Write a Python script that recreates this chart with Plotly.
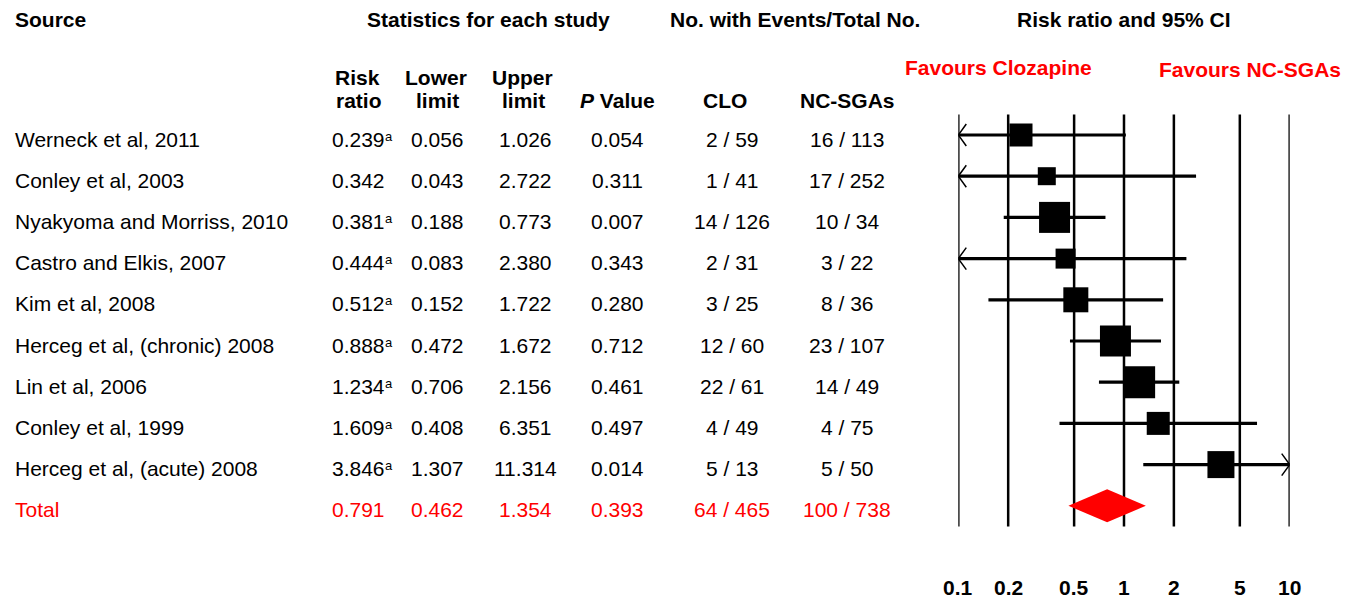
import math
import plotly.graph_objects as go

# ---- data -------------------------------------------------------------
studies = [
    "Werneck et al, 2011",
    "Conley et al, 2003",
    "Nyakyoma and Morriss, 2010",
    "Castro and Elkis, 2007",
    "Kim et al, 2008",
    "Herceg et al, (chronic) 2008",
    "Lin et al, 2006",
    "Conley et al, 1999",
    "Herceg et al, (acute) 2008",
]
risk_ratio = [0.239, 0.342, 0.381, 0.444, 0.512, 0.888, 1.234, 1.609, 3.846]
lower_limit = [0.056, 0.043, 0.188, 0.083, 0.152, 0.472, 0.706, 0.408, 1.307]
upper_limit = [1.026, 2.722, 0.773, 2.380, 1.722, 1.672, 2.156, 6.351, 11.314]
p_value = ["0.054", "0.311", "0.007", "0.343", "0.280", "0.712", "0.461", "0.497", "0.014"]
footnote_a = [True, False, True, True, True, True, True, True, True]
clo_events = ["2 / 59", "1 / 41", "14 / 126", "2 / 31", "3 / 25", "12 / 60", "22 / 61", "4 / 49", "5 / 13"]
ncsga_events = ["16 / 113", "17 / 252", "10 / 34", "3 / 22", "8 / 36", "23 / 107", "14 / 49", "4 / 75", "5 / 50"]

total_label = "Total"
total_rr, total_lo, total_hi = 0.791, 0.462, 1.354
total_p = "0.393"
total_clo = "64 / 465"
total_nc = "100 / 738"

axis_ticks = [0.1, 0.2, 0.5, 1, 2, 5, 10]
axis_ticktext = ["0.1", "0.2", "0.5", "1", "2", "5", "10"]

# box side (px) for each study, proportional to its weight
box_px = [23, 18, 31, 20, 25, 31, 32, 23, 27]

# ---- layout constants -------------------------------------------------
W, H = 1359, 601
ROW0_PX, ROW_PX = 135.0, 41.2          # pixel y of first row, row pitch
X_MIN, X_MAX = 0.1, 10.0
AX_L, AX_R = 958.3, 1289.7             # pixel span of the log axis
DEC_PX = (AX_R - AX_L) / math.log10(X_MAX / X_MIN)

FONT = "Liberation Sans, Arial, sans-serif"
FS = 21
RED = "#FF0000"
BLACK = "#000000"
TXT_DY = 4.0 / ROW_PX                  # text sits slightly below the row line

n = len(studies)
total_row = n

fig = go.Figure()

# vertical reference lines at each tick
for t in axis_ticks:
    fig.add_trace(go.Scatter(
        x=[t, t], y=[-0.5, total_row + 0.5], mode="lines", opacity=1,
        line=dict(color=BLACK, width=2.5), hoverinfo="skip", showlegend=False))

# confidence intervals, clipped to the axis with arrow heads where truncated
arrow_dx = 10 ** (8.0 / DEC_PX)
arrow_dy = 11.0 / ROW_PX
for i in range(n):
    lo = max(lower_limit[i], X_MIN)
    hi = min(upper_limit[i], X_MAX)
    fig.add_trace(go.Scatter(
        x=[lo, hi], y=[i, i], mode="lines", opacity=1,
        line=dict(color=BLACK, width=3.2), hoverinfo="skip", showlegend=False))
    if lower_limit[i] < X_MIN:
        fig.add_trace(go.Scatter(
            x=[X_MIN * arrow_dx, X_MIN, X_MIN * arrow_dx],
            y=[i - arrow_dy, i, i + arrow_dy], mode="lines", opacity=1,
            line=dict(color=BLACK, width=1.5), hoverinfo="skip", showlegend=False))
    if upper_limit[i] > X_MAX:
        fig.add_trace(go.Scatter(
            x=[X_MAX / arrow_dx, X_MAX, X_MAX / arrow_dx],
            y=[i - arrow_dy, i, i + arrow_dy], mode="lines", opacity=1,
            line=dict(color=BLACK, width=1.5), hoverinfo="skip", showlegend=False))

# study point estimates
fig.add_trace(go.Scatter(
    x=risk_ratio, y=list(range(n)), mode="markers", opacity=1,
    marker=dict(symbol="square", size=box_px, color=BLACK, opacity=1,
                line=dict(width=0, color=BLACK)),
    hoverinfo="skip", showlegend=False))

# pooled estimate diamond
dh = 16.5 / ROW_PX
fig.add_trace(go.Scatter(
    x=[total_lo, total_rr, total_hi, total_rr, total_lo],
    y=[total_row, total_row - dh, total_row, total_row + dh, total_row],
    mode="lines", fill="toself", fillcolor=RED, opacity=1,
    line=dict(width=0, color=RED), hoverinfo="skip", showlegend=False))

ann = []


def px_x(px):
    return px / W


def px_y(py):
    return 1 - py / H


def txt(text, x, y, color=BLACK, anchor="center", size=FS, yref="y", bold=False):
    if bold:
        text = "<b>" + text + "</b>"
    ann.append(dict(text=text, x=x, y=y, xref="paper", yref=yref,
                    xanchor=anchor, yanchor="middle", showarrow=False,
                    font=dict(family=FONT, size=size, color=color)))


# column headers
txt("Source", px_x(13), px_y(20), anchor="left", yref="paper", bold=True)
txt("Statistics for each study", px_x(488.5), px_y(20), yref="paper", bold=True)
txt("No. with Events/Total No.", px_x(794.5), px_y(20), yref="paper", bold=True)
ann.append(dict(text="<b>Risk ratio and 95% CI</b>", x=0, y=px_y(20), xref="x", yref="paper",
                xanchor="center", yanchor="middle", showarrow=False,
                font=dict(family=FONT, size=FS, color=BLACK)))

txt("Risk", px_x(357), px_y(77), yref="paper", bold=True)
txt("ratio", px_x(359), px_y(101), yref="paper", bold=True)
txt("Lower", px_x(436), px_y(77), yref="paper", bold=True)
txt("limit", px_x(437), px_y(101), yref="paper", bold=True)
txt("Upper", px_x(522.5), px_y(77), yref="paper", bold=True)
txt("limit", px_x(523.5), px_y(101), yref="paper", bold=True)
txt("<i>P</i> Value", px_x(617), px_y(101), yref="paper", bold=True)
txt("CLO", px_x(725), px_y(101), yref="paper", bold=True)
txt("NC-SGAs", px_x(847), px_y(101), yref="paper", bold=True)

txt("Favours Clozapine", px_x(998.5), px_y(67), color=RED, yref="paper", bold=True)
txt("Favours NC-SGAs", px_x(1249.5), px_y(69), color=RED, yref="paper", bold=True)

# table rows
for i in range(n):
    y = i + TXT_DY
    txt(studies[i], px_x(13), y, anchor="left")
    txt(f"{risk_ratio[i]:.3f}", px_x(358), y)
    if footnote_a[i]:
        txt("a", px_x(389), i + 1.0 / ROW_PX, size=13)
    txt(f"{lower_limit[i]:.3f}", px_x(437.5), y)
    txt(f"{upper_limit[i]:.3f}", px_x(525), y)
    txt(p_value[i], px_x(617), y)
    txt(clo_events[i], px_x(732), y)
    txt(ncsga_events[i], px_x(847), y)

y = total_row + TXT_DY
txt(total_label, px_x(13), y, color=RED, anchor="left")
txt(f"{total_rr:.3f}", px_x(358), y, color=RED)
txt(f"{total_lo:.3f}", px_x(437.5), y, color=RED)
txt(f"{total_hi:.3f}", px_x(525), y, color=RED)
txt(total_p, px_x(617), y, color=RED)
txt(total_clo, px_x(732), y, color=RED)
txt(total_nc, px_x(847), y, color=RED)

# axis tick labels under the forest plot
for t, lab in zip(axis_ticks, axis_ticktext):
    ann.append(dict(text="<b>" + lab + "</b>", x=math.log10(t), y=px_y(587),
                    xref="x", yref="paper", xanchor="center", yanchor="middle",
                    showarrow=False, font=dict(family=FONT, size=FS, color=BLACK)))

fig.update_layout(
    width=W, height=H, autosize=False,
    margin=dict(l=0, r=0, t=0, b=0, pad=0),
    paper_bgcolor="white", plot_bgcolor="white",
    xaxis=dict(type="log", range=[math.log10(X_MIN), math.log10(X_MAX)],
               domain=[AX_L / W, AX_R / W], showgrid=False, zeroline=False,
               showline=False, showticklabels=False, ticks=""),
    yaxis=dict(range=[(H - ROW0_PX) / ROW_PX, -ROW0_PX / ROW_PX], domain=[0, 1],
               showgrid=False, zeroline=False, showline=False,
               showticklabels=False, ticks=""),
    annotations=ann,
    showlegend=False,
)

fig.write_html("out.html", config={"displayModeBar": False})
